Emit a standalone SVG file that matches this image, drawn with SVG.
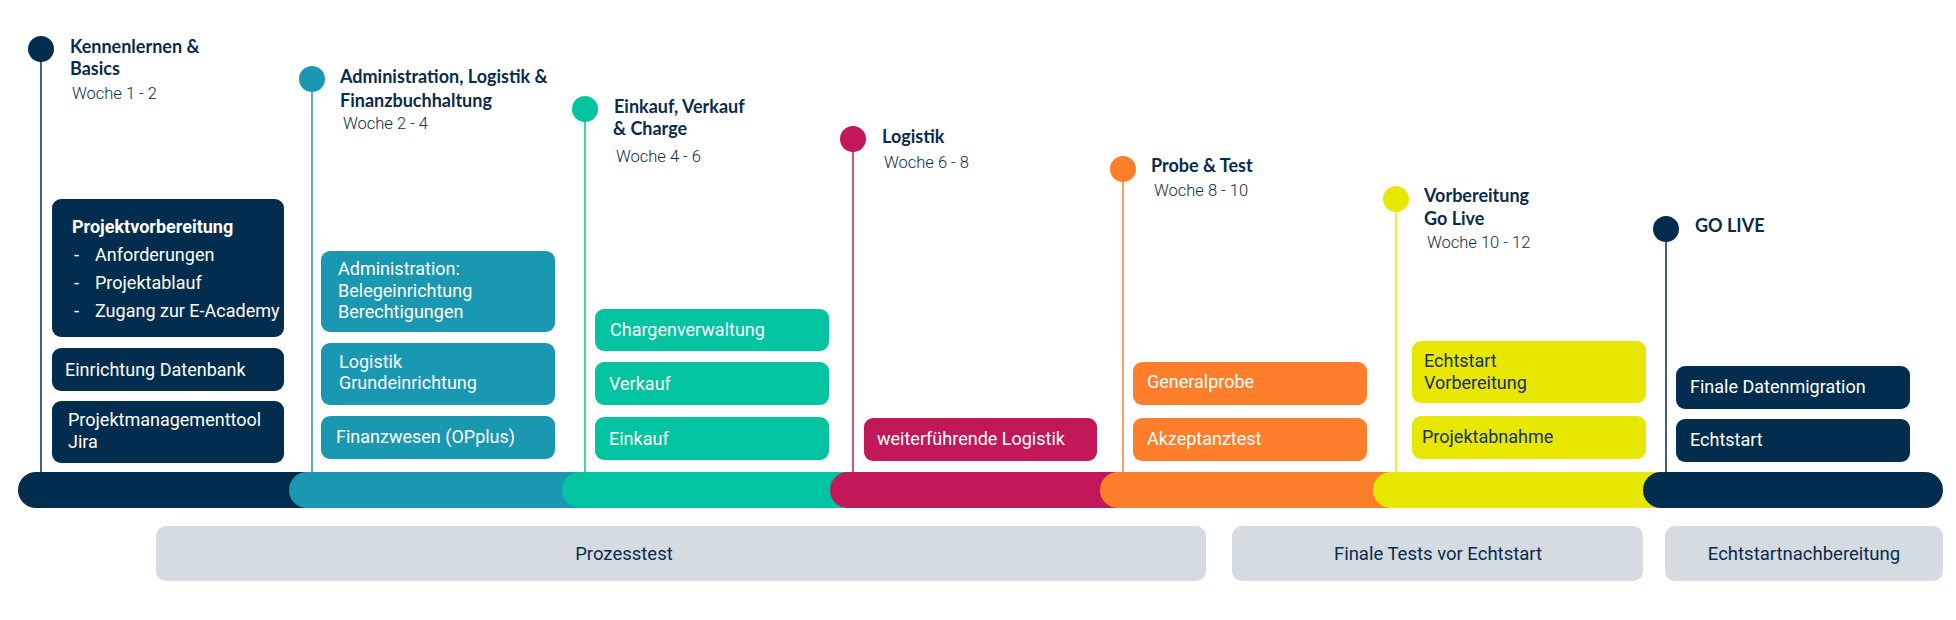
<svg xmlns="http://www.w3.org/2000/svg" width="1956" height="620" viewBox="0 0 1956 620">
<style>
.h{font-family:"Lato","Noto Sans",sans-serif;font-weight:700;font-size:18px;fill:#0a2b4c}
.w{font-family:Roboto,"Liberation Sans",sans-serif;font-weight:300;font-size:16.5px;fill:#0a2b4c}
.t{font-family:Roboto,"Liberation Sans",sans-serif;font-size:18px;fill:#fff}
.td{font-family:Roboto,"Liberation Sans",sans-serif;font-size:18px;fill:#1a2f6e}
.tb{font-family:Roboto,"Liberation Sans",sans-serif;font-size:18px;font-weight:700;fill:#fff}
.g{font-family:Roboto,"Liberation Sans",sans-serif;font-size:18.5px;fill:#0a2b4c;text-anchor:middle}
.navy{fill:#022d4e}.teal{fill:#1a98b1}.green{fill:#02c4a1}.mag{fill:#c2185a}.org{fill:#fe7e2c}.yel{fill:#e7e700}.gray{fill:#d4dbe1}
</style>
<rect width="1956" height="620" fill="#fff"/>
<g id="connectors" stroke-width="1.5" fill="none">
<line x1="41" y1="49" x2="41" y2="472" stroke="#022d4e"/>
<line x1="312" y1="79" x2="312" y2="472" stroke="#1a98b1"/>
<line x1="585" y1="109" x2="585" y2="472" stroke="#02c4a1"/>
<line x1="853" y1="139" x2="853" y2="472" stroke="#c2185a"/>
<line x1="1123" y1="169" x2="1123" y2="472" stroke="#fe7e2c"/>
<line x1="1396" y1="199" x2="1396" y2="472" stroke="#e7e700"/>
<line x1="1666" y1="229" x2="1666" y2="472" stroke="#022d4e"/>
</g>
<g id="timeline">
<rect class="navy" x="18" y="472" width="325" height="36" rx="18"/>
<rect class="teal" x="289" y="472" width="309" height="36" rx="18"/>
<rect class="green" x="562" y="472" width="304" height="36" rx="18"/>
<rect class="mag" x="830" y="472" width="306" height="36" rx="18"/>
<rect class="org" x="1100" y="472" width="309" height="36" rx="18"/>
<rect class="yel" x="1373" y="472" width="306" height="36" rx="18"/>
<rect class="navy" x="1643" y="472" width="300" height="36" rx="18"/>
</g>
<g id="m1"><circle class="navy" cx="41" cy="49" r="13"/><text class="h" x="70" y="53">Kennenlernen &amp;</text><text class="h" x="70" y="75">Basics</text><text class="w" x="72" y="99">Woche 1 - 2</text></g>
<g id="m2"><circle class="teal" cx="312" cy="79" r="13"/><text class="h" x="340" y="83">Administration, Logistik &amp;</text><text class="h" x="340" y="107">Finanzbuchhaltung</text><text class="w" x="343" y="129">Woche 2 - 4</text></g>
<g id="m3"><circle class="green" cx="585" cy="109" r="13"/><text class="h" x="614" y="113">Einkauf, Verkauf</text><text class="h" x="613" y="135">&amp; Charge</text><text class="w" x="616" y="162">Woche 4 - 6</text></g>
<g id="m4"><circle class="mag" cx="853" cy="139" r="13"/><text class="h" x="882" y="143">Logistik</text><text class="w" x="884" y="168">Woche 6 - 8</text></g>
<g id="m5"><circle class="org" cx="1123" cy="169" r="13"/><text class="h" x="1151" y="172">Probe &amp; Test</text><text class="w" x="1154" y="196">Woche 8 - 10</text></g>
<g id="m6"><circle class="yel" cx="1396" cy="199" r="13"/><text class="h" x="1424" y="202">Vorbereitung</text><text class="h" x="1424" y="225">Go Live</text><text class="w" x="1427" y="248">Woche 10 - 12</text></g>
<g id="m7"><circle class="navy" cx="1666" cy="229" r="13"/><text class="h" x="1695" y="232">GO LIVE</text></g>

<g id="b-projektvorbereitung"><rect class="navy" x="52" y="199" width="232" height="138" rx="9"/><text class="tb" x="72" y="233">Projektvorbereitung</text>
<text class="t" x="74" y="261">-</text><text class="t" x="95" y="261">Anforderungen</text>
<text class="t" x="74" y="289">-</text><text class="t" x="95" y="289">Projektablauf</text>
<text class="t" x="74" y="317">-</text><text class="t" x="95" y="317">Zugang zur E-Academy</text></g>
<g id="b-datenbank"><rect class="navy" x="52" y="348" width="232" height="43" rx="9"/><text class="t" x="65" y="376">Einrichtung Datenbank</text></g>
<g id="b-jira"><rect class="navy" x="52" y="401" width="232" height="62" rx="9"/><text class="t" x="68" y="426">Projektmanagementtool</text><text class="t" x="68" y="448">Jira</text></g>

<g id="b-admin"><rect class="teal" x="321" y="251" width="234" height="81" rx="9"/><text class="t" x="338" y="275">Administration:</text><text class="t" x="338" y="297">Belegeinrichtung</text><text class="t" x="338" y="318">Berechtigungen</text></g>
<g id="b-logistik"><rect class="teal" x="321" y="343" width="234" height="62" rx="9"/><text class="t" x="339" y="368">Logistik</text><text class="t" x="339" y="389">Grundeinrichtung</text></g>
<g id="b-finanz"><rect class="teal" x="321" y="416" width="234" height="43" rx="9"/><text class="t" x="336" y="443">Finanzwesen (OPplus)</text></g>

<g id="b-charge"><rect class="green" x="595" y="309" width="234" height="42" rx="9"/><text class="t" x="610" y="336">Chargenverwaltung</text></g>
<g id="b-verkauf"><rect class="green" x="595" y="362" width="234" height="43" rx="9"/><text class="t" x="609" y="390">Verkauf</text></g>
<g id="b-einkauf"><rect class="green" x="595" y="417" width="234" height="43" rx="9"/><text class="t" x="609" y="445">Einkauf</text></g>

<g id="b-weiterlog"><rect class="mag" x="864" y="418" width="233" height="43" rx="9"/><text class="t" x="877" y="445">weiterführende Logistik</text></g>

<g id="b-generalprobe"><rect class="org" x="1133" y="362" width="234" height="43" rx="9"/><text class="t" x="1147" y="388">Generalprobe</text></g>
<g id="b-akzeptanz"><rect class="org" x="1133" y="418" width="234" height="43" rx="9"/><text class="t" x="1147" y="445">Akzeptanztest</text></g>

<g id="b-echtvorb"><rect class="yel" x="1412" y="341" width="234" height="62" rx="9"/><text class="td" x="1424" y="367">Echtstart</text><text class="td" x="1424" y="389">Vorbereitung</text></g>
<g id="b-abnahme"><rect class="yel" x="1412" y="416" width="234" height="43" rx="9"/><text class="td" x="1422" y="443">Projektabnahme</text></g>

<g id="b-datenmig"><rect class="navy" x="1676" y="366" width="234" height="43" rx="9"/><text class="t" x="1690" y="393">Finale Datenmigration</text></g>
<g id="b-echtstart"><rect class="navy" x="1676" y="419" width="234" height="43" rx="9"/><text class="t" x="1690" y="446">Echtstart</text></g>

<g id="p-prozesstest"><rect class="gray" x="156" y="526" width="1050" height="55" rx="10"/><text class="g" x="624" y="560">Prozesstest</text></g>
<g id="p-finaletests"><rect class="gray" x="1232" y="526" width="411" height="55" rx="10"/><text class="g" x="1438" y="560">Finale Tests vor Echtstart</text></g>
<g id="p-nachbereitung"><rect class="gray" x="1665" y="526" width="278" height="55" rx="10"/><text class="g" x="1804" y="560">Echtstartnachbereitung</text></g>
</svg>
